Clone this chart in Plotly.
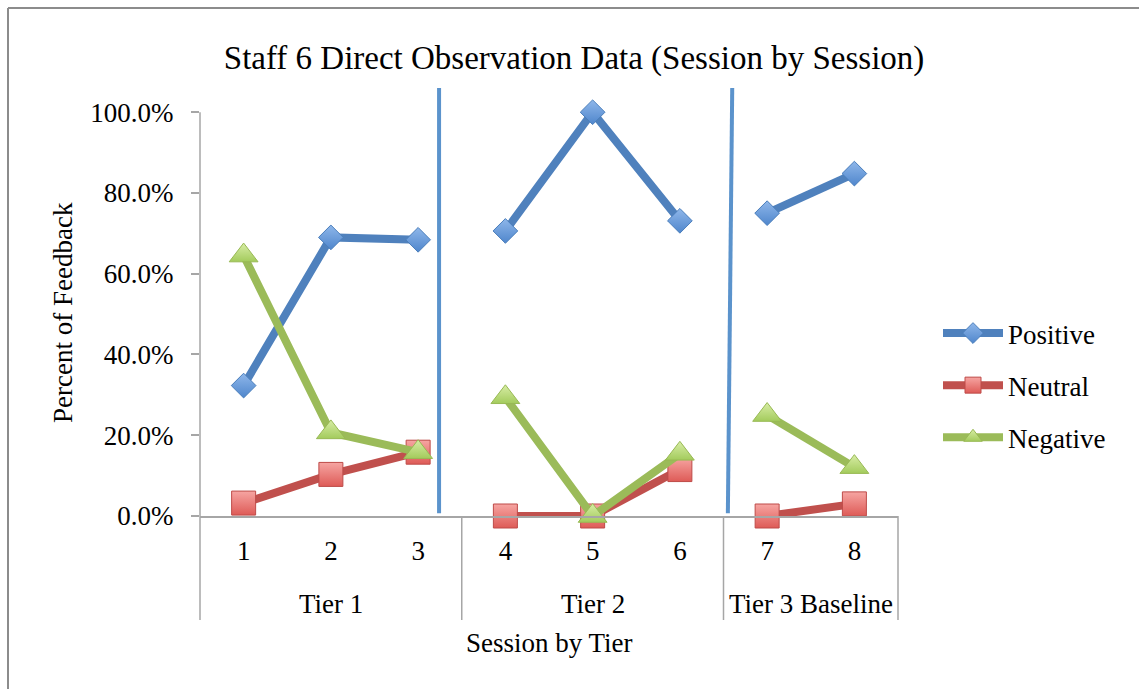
import plotly.graph_objects as go

# Session-by-session percentages of feedback type, grouped by tier
sessions = ["1", "2", "3", "4", "5", "6", "7", "8"]
tiers = ["Tier 1", "Tier 2", "Tier 3 Baseline"]
tier_sizes = [3, 3, 2]

positive = [32.3, 69.0, 68.4, 70.6, 100.0, 73.1, 75.0, 84.8]
neutral = [3.2, 10.3, 15.8, 0.0, 0.0, 11.5, 0.0, 3.0]
negative = [64.5, 20.7, 15.8, 29.4, 0.0, 15.4, 25.0, 12.1]

y_ticks = [0, 20, 40, 60, 80, 100]

# Phase-change lines: (x at bottom, x at top) in session-index units, y span in %
phase_lines = [(2.24, 2.24), (5.55, 5.60)]
phase_y = (0.7, 106.0)

FONT = "Liberation Serif"
AXIS_GREY = "#a6a6a6"
FRAME_GREY = "#8c8c8c"

# plot area in pixels
W, H = 1139, 689
L, R, T, B = 200, 241, 88, 173
PW, PH = W - L - R, H - T - B

# category index for each session
idx = list(range(len(sessions)))

# start index of each tier
starts = []
s = 0
for n in tier_sizes:
    starts.append(s)
    s += n


def split_by_tier(values):
    """Insert gaps between tiers so lines do not connect across phases."""
    xs, ys = [], []
    for k, (st, n) in enumerate(zip(starts, tier_sizes)):
        if k:
            xs.append(None)
            ys.append(None)
        xs.extend(idx[st:st + n])
        ys.extend(values[st:st + n])
    return xs, ys


series = [
    ("Positive", positive, "#4f81bd", "#8fb7ea", "#4f86cc", "#4a7ebb", "diamond", 19),
    ("Neutral", neutral, "#c0504d", "#f6a5a2", "#de5b57", "#be4b48", "square", 24),
    ("Negative", negative, "#9bbb59", "#d8eda6", "#a3cb5c", "#98b954", "triangle-up", 25),
]

fig = go.Figure()
for name, vals, lc, top_c, bot_c, edge, sym, size in series:
    xs, ys = split_by_tier(vals)
    fig.add_trace(go.Scatter(
        x=xs, y=ys, name=name, mode="lines+markers",
        line=dict(color=lc, width=8),
        marker=dict(symbol=sym, size=size, color=top_c,
                    gradient=dict(type="vertical", color=bot_c),
                    line=dict(color=edge, width=1)),
        legendgroup=name, cliponaxis=False,
    ))

x_lo, x_hi = -0.5, len(sessions) - 0.5
x_span = x_hi - x_lo

shapes = []
# phase-change lines
for xb, xt in phase_lines:
    shapes.append(dict(type="line", xref="x", yref="y",
                       x0=xb, x1=xt, y0=phase_y[0], y1=phase_y[1],
                       line=dict(color="#5b93cc", width=4)))
# y axis line from 0% to 100%
shapes.append(dict(type="line", xref="paper", yref="y", x0=0, x1=0,
                   y0=0, y1=100, line=dict(color=AXIS_GREY, width=1.5)))
# tier dividers below the category axis
bounds = starts + [len(sessions)]
for b in bounds:
    px = (b - 0.5 - x_lo) / x_span
    shapes.append(dict(type="line", xref="paper", yref="paper",
                       x0=px, x1=px, y0=0, y1=-104 / PH,
                       line=dict(color=AXIS_GREY, width=1.5)))
# outer chart frame: left and top edges (the rest runs past the page)
fx = (8 - L) / PW
fy = (H - B - 8) / PH
shapes.append(dict(type="line", xref="paper", yref="paper",
                   x0=fx, x1=fx, y0=fy, y1=-(B + 5) / PH,
                   line=dict(color=FRAME_GREY, width=2)))
shapes.append(dict(type="line", xref="paper", yref="paper",
                   x0=fx, x1=(W - L + 5) / PW, y0=fy, y1=fy,
                   line=dict(color=FRAME_GREY, width=2)))

annotations = []
for name, st, n in zip(tiers, starts, tier_sizes):
    annotations.append(dict(text=name, xref="x", yref="paper",
                            x=st + (n - 1) / 2, y=-88 / PH, yanchor="middle",
                            showarrow=False, font=dict(family=FONT, size=27, color="black")))
annotations.append(dict(text="Session by Tier", xref="paper", yref="paper",
                        x=0.5, y=-127 / PH, yanchor="middle", showarrow=False,
                        font=dict(family=FONT, size=27, color="black")))
annotations.append(dict(text="Percent of Feedback", xref="paper", yref="paper",
                        x=(63 - L) / PW, y=1 - (313 - T) / PH, textangle=-90,
                        xanchor="center", yanchor="middle", showarrow=False,
                        font=dict(family=FONT, size=27, color="black")))

fig.update_layout(
    width=W, height=H,
    margin=dict(l=L, r=R, t=T, b=B, autoexpand=False),
    paper_bgcolor="white", plot_bgcolor="white",
    title=dict(text="Staff 6 Direct Observation Data (Session by Session)",
               xref="container", yref="container", x=0.504, y=1 - 57 / H,
               xanchor="center", yanchor="middle",
               font=dict(family=FONT, size=33, color="black")),
    xaxis=dict(range=[x_lo, x_hi], tickvals=idx, ticktext=sessions,
               showgrid=False, zeroline=False, showline=True,
               linecolor=AXIS_GREY, linewidth=1.5, ticks="",
               tickfont=dict(family=FONT, size=27, color="black"),
               ticklabelstandoff=10),
    yaxis=dict(range=[0, 106], tickvals=y_ticks,
               ticktext=[f"{v:.1f}%" for v in y_ticks],
               showgrid=False, zeroline=False, showline=False,
               ticks="outside", ticklen=8, tickwidth=1.5, tickcolor=AXIS_GREY,
               tickfont=dict(family=FONT, size=27, color="black"),
               ticklabelstandoff=12),
    showlegend=True,
    legend=dict(x=1 + (938 - (W - R)) / PW, y=1 - (309 - T) / PH,
                xanchor="left", yanchor="top", tracegroupgap=14,
                itemwidth=60,
                font=dict(family=FONT, size=27, color="black"),
                bgcolor="rgba(0,0,0,0)"),
    shapes=shapes,
    annotations=annotations,
)

fig.write_html("out.html")
